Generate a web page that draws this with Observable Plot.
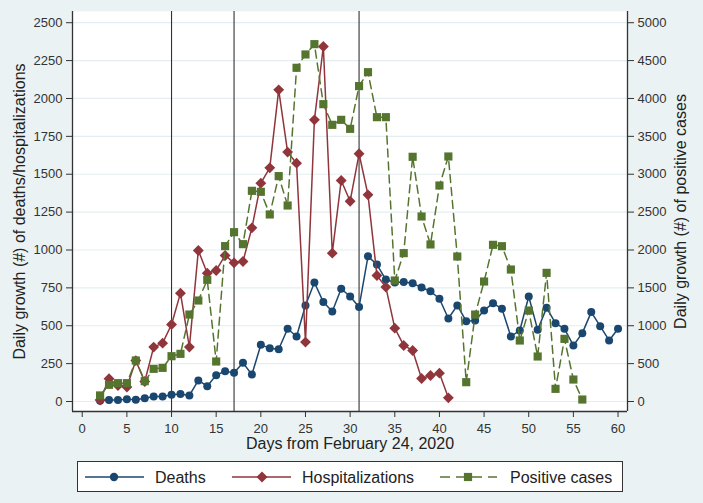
<!DOCTYPE html>
<html>
<head>
<meta charset="utf-8">
<script src="https://cdn.jsdelivr.net/npm/d3@7"></script>
<script src="https://cdn.jsdelivr.net/npm/@observablehq/plot@0.6"></script>
<style>
  html, body { margin: 0; padding: 0; background: #eaf2f3; }
  #wrap { position: relative; width: 703px; height: 503px; background: #eaf2f3; overflow: hidden;
          font-family: Arial, "Liberation Sans", sans-serif; }
  #legend { position: absolute; left: 77px; top: 461px; }
</style>
</head>
<body>
<div id="wrap"><div id="chart"></div><div id="legend"></div></div>
<script>
// ---- data ----
const days = [2,3,4,5,6,7,8,9,10,11,12,13,14,15,16,17,18,19,20,21,22,23,24,25,26,27,28,29,30,31,
              32,33,34,35,36,37,38,39,40,41,42,43,44,45,46,47,48,49,50,51,52,53,54,55,56,57,58,59,60];
const deathsValues = [5,10,10,15,12,22,33,33,44,50,40,139,101,174,200,189,255,178,374,352,345,480,429,634,785,
                      656,594,744,693,624,958,904,805,785,788,781,752,728,678,548,634,530,535,601,649,612,429,469,
                      693,473,618,517,480,370,451,590,497,403,480];
const hospValues = [10,150,105,95,270,132,359,385,508,715,359,997,847,865,964,915,924,1146,1441,1542,2057,1646,
                    1573,392,1859,2343,979,1459,1322,1635,1364,832,755,484,370,337,152,172,187,24];
const positiveValues = [80,220,242,242,541,268,431,444,598,629,1148,1333,1606,528,2051,2235,2077,2781,2768,2469,
                        2975,2587,4405,4581,4717,3925,3652,3718,3599,4163,4347,3753,3753,1597,1958,3230,2442,2073,
                        2851,3234,1914,255,1148,1584,2068,2050,1742,805,1201,594,1698,167,827,290,26];
const eventDays = [10, 17, 31];
const xTicks = [0,5,10,15,20,25,30,35,40,45,50,55,60];
const leftTicks = [0,250,500,750,1000,1250,1500,1750,2000,2250,2500];
const rightTicks = [0,500,1000,1500,2000,2500,3000,3500,4000,4500,5000];
const seriesNames = ["Deaths", "Hospitalizations", "Positive cases"];
const xTitle = "Days from February 24, 2020";
const leftTitle = "Daily growth (#) of deaths/hospitalizations";
const rightTitle = "Daily growth (#) of positive cases";

const colors = {deaths: "#1a476f", hosp: "#90353b", pos: "#55752f"};

const deaths = deathsValues.map((v, i) => ({day: days[i], value: v}));
const hosp = hospValues.map((v, i) => ({day: days[i], value: v}));
const positive = positiveValues.map((v, i) => ({day: days[i], value: v / 2})); // right axis is 2x left

const xDomain = [-1.09, 61.06];
const yDomain = [-66, 2574];
const axisColor = "#333";
const font = 'Arial, "Liberation Sans", sans-serif';

const chart = Plot.plot({
  width: 703,
  height: 455,
  marginLeft: 72,
  marginRight: 76,
  marginTop: 11,
  marginBottom: 44,
  style: {background: "#eaf2f3", fontFamily: font, color: "#222"},
  x: {domain: xDomain},
  y: {domain: yDomain},
  marks: [
    Plot.frame({fill: "white", stroke: "none"}),
    Plot.gridY(leftTicks, {stroke: "#e3eef0", strokeOpacity: 1, strokeWidth: 1.2}),
    Plot.ruleX(eventDays, {stroke: "#333", strokeWidth: 1.1}),
    Plot.ruleX([xDomain[0], xDomain[1]], {stroke: axisColor, strokeWidth: 1.3}),
    Plot.ruleY([yDomain[0]], {stroke: axisColor, strokeWidth: 1.3}),
    Plot.axisX({ticks: xTicks, tickSize: 6, tickPadding: 6, fontSize: 13, label: null, color: axisColor}),
    Plot.axisY({ticks: leftTicks, anchor: "left", tickSize: 6, tickPadding: 4, fontSize: 13, label: null,
                tickFormat: d => String(d), color: axisColor}),
    Plot.axisY({ticks: rightTicks.map(v => v / 2), anchor: "right", tickSize: 6, tickPadding: 4, fontSize: 13,
                label: null, tickFormat: d => String(d * 2), color: axisColor}),
    Plot.text([xTitle], {text: d => d, frameAnchor: "bottom", dy: 37.5, lineAnchor: "bottom", textAnchor: "middle", fontSize: 16, fill: "#222"}),
    Plot.text([leftTitle], {text: d => d, frameAnchor: "left", rotate: -90, dx: -59, lineAnchor: "top", textAnchor: "middle", fontSize: 16, fill: "#222"}),
    Plot.text([rightTitle], {text: d => d, frameAnchor: "right", rotate: -90, dx: 58, lineAnchor: "bottom", textAnchor: "middle", fontSize: 16, fill: "#222"}),
    // Deaths
    Plot.line(deaths, {x: "day", y: "value", stroke: colors.deaths, strokeWidth: 1.5}),
    Plot.dot(deaths, {x: "day", y: "value", fill: colors.deaths, stroke: "none", r: 4}),
    // Hospitalizations
    Plot.line(hosp, {x: "day", y: "value", stroke: colors.hosp, strokeWidth: 1.5}),
    Plot.dot(hosp, {x: "day", y: "value", fill: colors.hosp, stroke: "none", symbol: "diamond2", r: 4.9}),
    // Positive cases
    Plot.line(positive, {x: "day", y: "value", stroke: colors.pos, strokeWidth: 1.5, strokeDasharray: "8,5"}),
    Plot.dot(positive, {x: "day", y: "value", fill: colors.pos, stroke: "none", symbol: "square", r: 4.6})
  ]
});
document.getElementById("chart").appendChild(chart);

// ---- legend ----
const ns = "http://www.w3.org/2000/svg";
const lg = document.createElementNS(ns, "svg");
lg.setAttribute("width", 546);
lg.setAttribute("height", 31);
lg.style.display = "block";
function el(tag, attrs, parent) {
  const e = document.createElementNS(ns, tag);
  for (const k in attrs) e.setAttribute(k, attrs[k]);
  (parent || lg).appendChild(e);
  return e;
}
el("rect", {x: 0.5, y: 0.5, width: 545, height: 30, fill: "white", stroke: "#333", "stroke-width": 1});
const items = [
  {name: seriesNames[0], color: colors.deaths, x0: 8, x1: 67, mx: 37, tx: 78, sym: "circle", dash: null},
  {name: seriesNames[1], color: colors.hosp, x0: 155, x1: 214, mx: 185, tx: 225, sym: "diamond", dash: null},
  {name: seriesNames[2], color: colors.pos, x0: 363, x1: 420, mx: 391, tx: 433, sym: "square", dash: "10,6"}
];
const cy = 16;
for (const it of items) {
  const ln = el("line", {x1: it.x0, x2: it.x1, y1: cy, y2: cy, stroke: it.color, "stroke-width": 1.5});
  if (it.dash) ln.setAttribute("stroke-dasharray", it.dash);
  if (it.sym === "circle") el("circle", {cx: it.mx, cy: cy, r: 4.2, fill: it.color});
  else if (it.sym === "diamond") el("path", {d: `M${it.mx},${cy-5.5}L${it.mx+5.5},${cy}L${it.mx},${cy+5.5}L${it.mx-5.5},${cy}Z`, fill: it.color});
  else el("rect", {x: it.mx - 4.1, y: cy - 4.1, width: 8.2, height: 8.2, fill: it.color});
  const t = el("text", {x: it.tx, y: cy, dy: "0.35em", fill: "#222", "font-size": 16, "font-family": font});
  t.textContent = it.name;
}
document.getElementById("legend").appendChild(lg);
</script>
</body>
</html>
